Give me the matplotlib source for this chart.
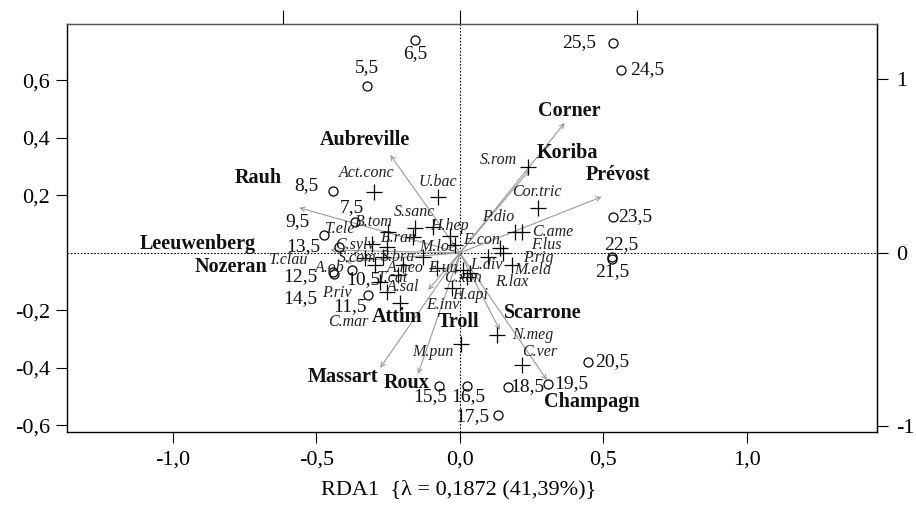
import matplotlib
matplotlib.use("Agg")
import matplotlib.pyplot as plt

plt.rcParams['font.family'] = ['Liberation Serif', 'DejaVu Serif']

# ---------------- data ----------------
site_labels = ["5,5", "6,5", "25,5", "24,5", "8,5", "7,5", "9,5", "13,5", "12,5", "14,5",
               "10,5", "11,5", "15,5", "16,5", "17,5", "18,5", "19,5", "20,5", "21,5",
               "22,5", "23,5"]
site_x = [-0.323, -0.157, 0.532, 0.560, -0.442, -0.365, -0.473, -0.421, -0.442, -0.440,
          -0.376, -0.320, -0.073, 0.024, 0.132, 0.167, 0.306, 0.445, 0.529, 0.529, 0.532]
site_y = [0.581, 0.741, 0.730, 0.637, 0.216, 0.108, 0.063, 0.021, -0.066, -0.075,
          -0.059, -0.146, -0.463, -0.463, -0.563, -0.466, -0.456, -0.379, -0.021, -0.014, 0.125]

species = ["Act.conc", "U.bac", "S.rom", "Cor.tric", "S.sanc", "B.tom", "H.hep", "T.ele",
           "E.ran", "C.sylv", "M.loe", "E.con", "S.com", "S.bra", "T.clau", "A.ob",
           "A.neo", "E.un", "L.div", "T.cat", "C.xan", "A.sal", "H.api", "P.riv", "E.inv",
           "C.mar", "M.pun", "N.meg", "C.ver", "P.dio", "C.ame", "F.lus", "P.rig",
           "M.ela", "R.lax"]
sp_x = [-0.299, -0.077, 0.237, 0.271, -0.157, -0.250, -0.094, -0.306, -0.163, -0.254,
        -0.035, -0.017, -0.268, -0.129, -0.330, -0.296, -0.198, -0.080, 0.097, -0.216,
        0.024, -0.254, -0.028, -0.278, 0.010, -0.209, 0.003, 0.129, 0.216, 0.191, 0.216,
        0.139, 0.150, 0.181, 0.035]
sp_y = [0.212, 0.195, 0.299, 0.157, 0.087, 0.073, 0.090, 0.031, 0.056, 0.021, 0.059,
        0.028, -0.014, -0.014, -0.017, -0.042, -0.042, -0.052, -0.014, -0.077, -0.083,
        -0.136, -0.122, -0.101, -0.059, -0.174, -0.317, -0.285, -0.390, 0.073, 0.073,
        0.017, 0.000, -0.042, -0.070]

env = ["Corner", "Koriba", "Prévost", "Aubreville", "Rauh", "Leeuwenberg", "Nozeran",
       "Attim", "Troll", "Massart", "Roux", "Scarrone", "Champagn"]
env_x = [0.365, 0.243, 0.494, -0.243, -0.560, -0.452, -0.400, -0.111, -0.017, -0.278,
         -0.146, 0.139, 0.303]
env_y = [0.452, 0.289, 0.195, 0.341, 0.157, 0.010, -0.031, -0.129, -0.077, -0.400,
         -0.421, -0.268, -0.442]

xticks = [-1.0, -0.5, 0.0, 0.5, 1.0]
yticks = [-0.6, -0.4, -0.2, 0.2, 0.4, 0.6]
sec_ticks = [-1, 0, 1]
xlabel = "RDA1  {\u03bb = 0,1872 (41,39%)}"

# ---------------- layout (label offsets in screen pixels, +y = downwards) ----------------
site_off = [(0, -18), (0, 14), (-33, 0), (27, 0), (-27, -5), (-3, -14), (-27, -13),
            (-36, 0), (-33, 5), (-33, 24), (11, 10), (-18, 12), (-9, 11), (1, 11),
            (-26, 2), (19, 0), (24, 0), (25, 0), (0, 13), (9, -12), (23, 0)]
sp_off = [(-7, -19), (0, -15), (-30, -7), (-1, -16), (0, -16), (-14, -10), (17, -1),
          (-32, -15), (-15, 1), (-32, -2), (-12, 11), (27, -5), (-26, 1), (-25, 0),
          (-77, 2), (-45, 3), (2, 3), (6, 0), (-1, 8), (-5, 3), (-4, 1), (16, -5),
          (18, 7), (-43, 11), (-20, 35), (-52, 19), (-28, 8), (36, 0), (18, -13),
          (-17, -15), (31, 0), (47, -3), (35, 5), (21, 5), (42, 9)]
env_off = [(5, -12), (38, -17), (16, -22), (-25, -15), (-41, -30), (-132, -6),
           (-114, 5), (-31, 27), (3, 47), (-37, 9), (-11, 9), (43, -17), (45, 22)]

fig = plt.figure(figsize=(9.16, 5.22), dpi=100)
ax = fig.add_axes([0.0728, 0.1724, 0.8846, 0.7810])
ax.set_xlim(-1.370, 1.453)
ax.set_ylim(-0.623, 0.795)

ax.axhline(0, color='black', lw=0.8, ls=(0, (1.5, 1.5)), zorder=1)
ax.axvline(0, color='black', lw=0.8, ls=(0, (1.5, 1.5)), zorder=1)


def flip(o):
    return (o[0], -o[1])


# arrows
for n, x, y in zip(env, env_x, env_y):
    ax.annotate("", xy=(x, y), xytext=(0, 0),
                arrowprops=dict(arrowstyle='->', color='#9a9a9a', lw=0.8,
                                shrinkA=0, shrinkB=0, mutation_scale=8), zorder=2)
for n, x, y, o in zip(env, env_x, env_y, env_off):
    ax.annotate(n, xy=(x, y), xytext=flip(o), textcoords='offset pixels', ha='center',
                va='center', fontsize=14.5, fontweight='bold', color='#111111', zorder=4)

# species
ax.plot(sp_x, sp_y, ls='none', marker='+', ms=11, mew=0.9, color='black', zorder=3)
for n, x, y, o in zip(species, sp_x, sp_y, sp_off):
    ax.annotate(n, xy=(x, y), xytext=flip(o), textcoords='offset pixels', ha='center',
                va='center', fontsize=11.5, fontstyle='italic', color='#222222', zorder=4)

# sites
ax.plot(site_x, site_y, ls='none', marker='o', ms=6.5, mfc='none', mec='black',
        mew=0.9, zorder=3)
for n, x, y, o in zip(site_labels, site_x, site_y, site_off):
    ax.annotate(n, xy=(x, y), xytext=flip(o), textcoords='offset pixels', ha='center',
                va='center', fontsize=14, color='#111111', zorder=4)

ax.set_xticks(xticks)
ax.set_xticklabels([f"{t:.1f}".replace('.', ',') for t in xticks])
ax.set_yticks(yticks)
ax.set_yticklabels([f"{t:.1f}".replace('.', ',') for t in yticks])
ax.tick_params(direction='out', length=8, width=0.8, labelsize=16, pad=4)
ax.tick_params(axis='x', pad=5)
for s in ax.spines.values():
    s.set_linewidth(1.0)
ax.spines['top'].set_color('#555555')

k_right = 0.6035
k_top = 0.6157
sy = ax.secondary_yaxis('right', functions=(lambda v: v / k_right, lambda v: v * k_right))
sy.set_yticks(sec_ticks)
sy.set_yticklabels([str(t) for t in sec_ticks])
sy.tick_params(direction='out', length=8, width=0.8, labelsize=16, pad=6)
sx = ax.secondary_xaxis('top', functions=(lambda v: v / k_top, lambda v: v * k_top))
sx.set_xticks(sec_ticks)
sx.set_xticklabels([])
sx.tick_params(direction='out', length=10, width=0.8)

ax.set_xlabel(xlabel, fontsize=16)
ax.xaxis.set_label_coords(0.484, -0.118)

fig.savefig("out.png", dpi=100)
